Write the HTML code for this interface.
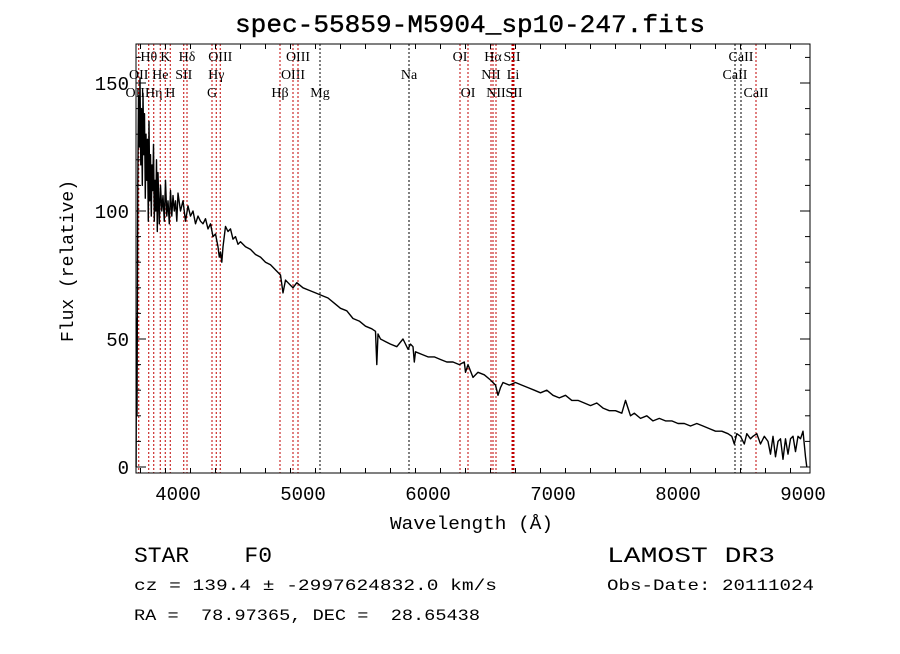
<!DOCTYPE html>
<html><head><meta charset="utf-8"><style>
body{margin:0;background:#fff;}
svg text{font-family:"Liberation Serif",serif;white-space:pre;}
.m{font-family:"Liberation Mono",monospace;}
</style></head><body>
<svg width="900" height="649" viewBox="0 0 900 649">
<rect width="900" height="649" fill="#fff"/>
<text x="235" y="32" font-size="25" class="m" textLength="470" lengthAdjust="spacingAndGlyphs" stroke="#000" stroke-width="0.4">spec-55859-M5904_sp10-247.fits</text>
<g id="lines"></g>
<g id="axes"></g>
<path id="spec" fill="none" stroke="#000" stroke-width="1.4" stroke-linejoin="round"/>
<rect x="136" y="44" width="674" height="429" fill="none" stroke="#000"/>
<text x="390" y="529" font-size="18" class="m" textLength="163" lengthAdjust="spacingAndGlyphs">Wavelength (Å)</text>
<text transform="translate(73,342) rotate(-90)" font-size="18" class="m" textLength="162" lengthAdjust="spacingAndGlyphs">Flux (relative)</text>
<text x="134" y="562" font-size="22" class="m" xml:space="preserve" textLength="138" lengthAdjust="spacingAndGlyphs">STAR    F0</text>
<text x="607" y="562" font-size="22" class="m" textLength="168" lengthAdjust="spacingAndGlyphs">LAMOST DR3</text>
<text x="134" y="590" font-size="16" class="m" textLength="363" lengthAdjust="spacingAndGlyphs">cz = 139.4 ± -2997624832.0 km/s</text>
<text x="607" y="590" font-size="16" class="m" textLength="207" lengthAdjust="spacingAndGlyphs">Obs-Date: 20111024</text>
<text x="134" y="620" font-size="16" class="m" xml:space="preserve" textLength="346" lengthAdjust="spacingAndGlyphs">RA =  78.97365, DEC =  28.65438</text>
</svg>
<script>
const xTicks=[4000,5000,6000,7000,8000,9000];
const yTicks=[0,50,100,150];
const waves=[3665,3668,3672,3678,3684,3690,3696,3702,3708,3714,3720,3726,3732,3738,3744,3750,3756,3762,3768,3774,3780,3786,3792,3798,3804,3810,3816,3822,3828,3834,3840,3850,3860,3870,3880,3890,3900,3910,3920,3930,3940,3950,3960,3970,3980,3990,4000,4020,4040,4060,4080,4100,4120,4140,4160,4180,4200,4220,4240,4260,4280,4300,4320,4330,4340,4350,4360,4380,4400,4420,4440,4460,4480,4500,4540,4580,4620,4660,4700,4740,4780,4820,4840,4860,4880,4900,4920,4950,5000,5050,5100,5150,5200,5250,5300,5350,5400,5450,5500,5550,5580,5590,5600,5620,5660,5700,5750,5800,5840,5860,5880,5890,5900,5950,6000,6050,6100,6150,6200,6250,6290,6300,6320,6360,6400,6450,6500,6540,6560,6580,6600,6650,6700,6750,6800,6850,6900,6950,7000,7050,7100,7150,7200,7250,7300,7350,7400,7450,7500,7550,7580,7600,7620,7650,7700,7750,7800,7850,7900,7950,8000,8050,8100,8150,8200,8250,8300,8350,8400,8430,8450,8470,8500,8530,8550,8580,8600,8630,8660,8690,8720,8740,8760,8780,8800,8820,8840,8860,8880,8900,8920,8940,8960,8980,9000,9020,9030,9040];
const flux=[0,58,20,110,145,125,152,118,140,110,146,122,138,105,130,112,128,96,135,104,122,98,118,108,126,96,112,100,120,92,115,95,110,100,106,96,112,98,104,95,108,98,106,100,104,96,107,100,104,96,102,98,100,95,98,96,95,97,93,95,90,91,86,82,84,80,86,94,92,93,89,90,87,88,86,85,83,82,80,79,77,75,68,73,72,71,70,72,70,69,68,67,66,64,62,61,58,57,55,54,53,40,52,50,49,48,47,50,46,48,47,41,45,44,43,43,42,41,41,40,41,37,40,35,37,36,34,32,28,31,33,32,33,32,31,30,29,30,28,27,28,26,26,25,24,25,23,22,22,21,26,23,20,21,19,20,18,19,18,18,17,17,16,17,16,15,14,14,13,12,9,13,12,9,13,11,12,13,9,12,10,5,12,4,10,11,3,11,5,11,12,6,12,11,14,4,0];
const lineW=[3658,3686,3766,3806,3858,3898,3938,4046,4072,4272,4306,4338,4816,4920,4960,5136,5848,6256,6320,6504,6520,6544,6672,6680,6688,8456,8504,8624];
const lineLab=["OII","OII","Hθ","Hη","He","K","H","SII","Hδ","G","Hγ","OIII","Hβ","OIII","OIII","Mg","Na","OI","OI","NII","Hα","NII","SII","Li","SII","CaII","CaII","CaII"];
const lineRow=[2,1,0,2,1,0,2,1,0,2,1,0,2,1,0,2,1,0,2,1,0,2,0,1,2,1,0,2];
const lineRed=[1,1,1,1,1,1,1,1,1,1,1,1,1,1,1,0,0,1,1,1,1,1,1,1,1,0,0,1];
const X=w=>178+(w-4000)*0.125, Y=f=>467-f*2.56;
const ns="http://www.w3.org/2000/svg";
const ax=document.getElementById('axes'), lg=document.getElementById('lines');
function mk(t,a,p){const e=document.createElementNS(ns,t);for(const k in a)e.setAttribute(k,a[k]);p.appendChild(e);return e;}
for(let w=3700;w<=9050;w+=200){const big=w%1000===0;const x=X(w);
 const t1=mk('line',{x1:x,x2:x,y1:473,y2:473-(big?10:5),stroke:'#000'},ax);
 
 
 const t2=mk('line',{x1:x,x2:x,y1:44,y2:44+(big?10:5),stroke:'#000'},ax);
 
 }
xTicks.forEach(v=>{const t=mk('text',{x:X(v),y:500,'text-anchor':'middle','font-size':19,class:'m'},ax);t.textContent=v;
 
 });
for(let v=0;v<=165;v+=10){const big=v%50===0;const y=Y(v);
 const t1=mk('line',{x1:136,x2:136+(big?10:5),y1:y,y2:y,stroke:'#000'},ax);
 
 
 const t2=mk('line',{x1:810,x2:810-(big?10:5),y1:y,y2:y,stroke:'#000'},ax);
 
 }
yTicks.forEach(v=>{const t=mk('text',{x:129,y:Y(v)+7,'text-anchor':'end','font-size':19,class:'m'},ax);t.textContent=v;
 
 });
lineW.forEach((w,i)=>{const x=X(w);
 if(x>=136){const l=mk('line',{x1:x,x2:x,y1:44,y2:473,stroke:lineRed[i]?'#c00000':'#000','stroke-dasharray':'2,2','stroke-width':1},lg);
 
 }
 const t=mk('text',{x:x,y:61+lineRow[i]*18,'text-anchor':'middle','font-size':14},lg);t.textContent=lineLab[i];
 
 });
document.getElementById('spec').setAttribute('d',waves.map((w,i)=>(i?'L':'M')+X(w).toFixed(1)+','+Y(flux[i]).toFixed(1)).join(''));
</script>
</body></html>
